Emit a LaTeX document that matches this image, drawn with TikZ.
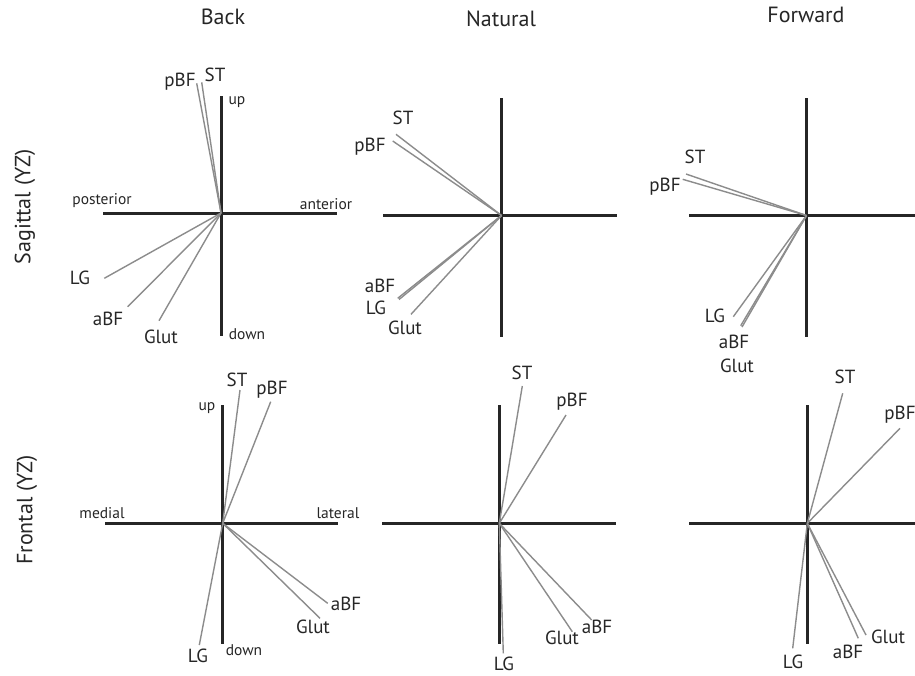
\documentclass[tikz,border=0pt]{standalone}
\usepackage{fontspec}
\setmainfont{PT Sans}
\begin{document}
\begin{tikzpicture}[x=1pt,y=-1pt,
 axis/.style={line width=3pt, draw=black!85},
 musc/.style={line width=1.4pt, draw=black!45},
 mlab/.style={font=\fontsize{19}{19}\selectfont, inner sep=0pt, text=black!85},
 alab/.style={font=\fontsize{15.5}{15.5}\selectfont, inner sep=0pt, text=black!85},
 ttl/.style={font=\fontsize{22}{22}\selectfont, inner sep=0pt, text=black!85}]
\clip (0,0) rectangle (915,675);
\fill[white] (0,0) rectangle (915,675);
% titles
\node[ttl] (tBack) at (223,17) {Back};
\node[ttl] (tNat) at (501,19) {Natural};
\node[ttl] (tFwd) at (806,15) {Forward};
\node[ttl, rotate=90] (tSag) at (25,207) {Sagittal (YZ)};
\node[ttl, rotate=90] (tFro) at (27,510) {Frontal (YZ)};
% ---------- Panel 1: Back sagittal
\coordinate (c1) at (221,213);
\coordinate (h1a) at (103,213); \coordinate (h1b) at (337,213);
\coordinate (v1a) at (221,96);  \coordinate (v1b) at (221,336);
\draw[axis] (h1a) -- (h1b); \draw[axis] (v1a) -- (v1b);
\coordinate (e1pBF) at (196.7,83.3); \coordinate (e1ST) at (201.7,82.3);
\coordinate (e1LG) at (104.3,278.3); \coordinate (e1aBF) at (127.7,306.7);
\coordinate (e1Glut) at (159,320.7);
\foreach \m in {pBF,ST,LG,aBF,Glut} \draw[musc] (c1) -- (e1\m);
\node[mlab] (l1pBF) at (180,82) {pBF};
\node[mlab] (l1ST) at (215,75) {ST};
\node[mlab] (l1LG) at (80,278) {LG};
\node[mlab] (l1aBF) at (108,319) {aBF};
\node[mlab] (l1Glut) at (161,337) {Glut};
\node[alab] (l1up) at (237,102) {up};
\node[alab] (l1down) at (247,334) {down};
\node[alab] (l1post) at (102,201) {posterior};
\node[alab] (l1ant) at (326,204) {anterior};
% ---------- Panel 2: Natural sagittal
\coordinate (c2) at (501.5,215.5);
\coordinate (h2a) at (383,215.5); \coordinate (h2b) at (617,215.5);
\coordinate (v2a) at (501.5,98);  \coordinate (v2b) at (501.5,337);
\draw[axis] (h2a) -- (h2b); \draw[axis] (v2a) -- (v2b);
\coordinate (e2ST) at (396,134.3); \coordinate (e2pBF) at (392.7,141);
\coordinate (e2aBF) at (397.7,298.3); \coordinate (e2LG) at (399,299.5);
\coordinate (e2Glut) at (411,314.3);
\foreach \m in {pBF,ST,LG,aBF,Glut} \draw[musc] (c2) -- (e2\m);
\node[mlab] (l2ST) at (403,118) {ST};
\node[mlab] (l2pBF) at (370,147) {pBF};
\node[mlab] (l2aBF) at (380,286) {aBF};
\node[mlab] (l2LG) at (376,308) {LG};
\node[mlab] (l2Glut) at (405,328) {Glut};
% ---------- Panel 3: Forward sagittal
\coordinate (c3) at (806.5,215.5);
\coordinate (h3a) at (689,215.5); \coordinate (h3b) at (925,215.5);
\coordinate (v3a) at (806.5,98);  \coordinate (v3b) at (806.5,337);
\draw[axis] (h3a) -- (h3b); \draw[axis] (v3a) -- (v3b);
\coordinate (e3ST) at (686,174); \coordinate (e3pBF) at (682.7,179.3);
\coordinate (e3LG) at (733.3,316.7); \coordinate (e3aBF) at (740.7,325.7);
\coordinate (e3Glut) at (742,327);
\foreach \m in {pBF,ST,LG,aBF,Glut} \draw[musc] (c3) -- (e3\m);
\node[mlab] (l3ST) at (695,157) {ST};
\node[mlab] (l3pBF) at (665,187) {pBF};
\node[mlab] (l3LG) at (715,316) {LG};
\node[mlab] (l3aBF) at (734,342) {aBF};
\node[mlab] (l3Glut) at (737,366) {Glut};
% ---------- Panel 4: Back frontal
\coordinate (c4) at (222.7,523.3);
\coordinate (h4a) at (105,523.3); \coordinate (h4b) at (338,523.3);
\coordinate (v4a) at (222.7,405);  \coordinate (v4b) at (222.7,644);
\draw[axis] (h4a) -- (h4b); \draw[axis] (v4a) -- (v4b);
\coordinate (e4ST) at (240,390); \coordinate (e4pBF) at (270.7,401.7);
\coordinate (e4LG) at (199.3,645); \coordinate (e4aBF) at (327.7,603.3);
\coordinate (e4Glut) at (320,618.3);
\foreach \m in {pBF,ST,LG,aBF,Glut} \draw[musc] (c4) -- (e4\m);
\node[mlab] (l4ST) at (237,380) {ST};
\node[mlab] (l4pBF) at (272,390) {pBF};
\node[mlab] (l4LG) at (198,656) {LG};
\node[mlab] (l4aBF) at (346,604) {aBF};
\node[mlab] (l4Glut) at (313,627) {Glut};
\node[alab] (l4up) at (207,408) {up};
\node[alab] (l4down) at (244,650) {down};
\node[alab] (l4med) at (102,513) {medial};
\node[alab] (l4lat) at (338,513) {lateral};
% ---------- Panel 5: Natural frontal
\coordinate (c5) at (499.3,523.3);
\coordinate (h5a) at (382,523.3); \coordinate (h5b) at (616,523.3);
\coordinate (v5a) at (499.3,405);  \coordinate (v5b) at (499.3,644);
\draw[axis] (h5a) -- (h5b); \draw[axis] (v5a) -- (v5b);
\coordinate (e5ST) at (522.3,386); \coordinate (e5pBF) at (566,415);
\coordinate (e5LG) at (503.3,653.3); \coordinate (e5aBF) at (591.7,620);
\coordinate (e5Glut) at (572.3,631.7);
\foreach \m in {pBF,ST,LG,aBF,Glut} \draw[musc] (c5) -- (e5\m);
\node[mlab] (l5ST) at (522,373) {ST};
\node[mlab] (l5pBF) at (572,402) {pBF};
\node[mlab] (l5LG) at (504,663.5) {LG};
\node[mlab] (l5aBF) at (597,627) {aBF};
\node[mlab] (l5Glut) at (562,638) {Glut};
% ---------- Panel 6: Forward frontal
\coordinate (c6) at (807.3,523.3);
\coordinate (h6a) at (689,523.3); \coordinate (h6b) at (925,523.3);
\coordinate (v6a) at (807.3,405);  \coordinate (v6b) at (807.3,644);
\draw[axis] (h6a) -- (h6b); \draw[axis] (v6a) -- (v6b);
\coordinate (e6ST) at (842.7,393.3); \coordinate (e6pBF) at (900,428.3);
\coordinate (e6LG) at (792.7,648.3); \coordinate (e6aBF) at (858.3,638.3);
\coordinate (e6Glut) at (866,635);
\foreach \m in {pBF,ST,LG,aBF,Glut} \draw[musc] (c6) -- (e6\m);
\node[mlab] (l6ST) at (845,377) {ST};
\node[mlab] (l6pBF) at (900,415) {pBF};
\node[mlab] (l6LG) at (793,662) {LG};
\node[mlab] (l6aBF) at (848,652) {aBF};
\node[mlab] (l6Glut) at (888,637) {Glut};
\end{tikzpicture}
\end{document}
